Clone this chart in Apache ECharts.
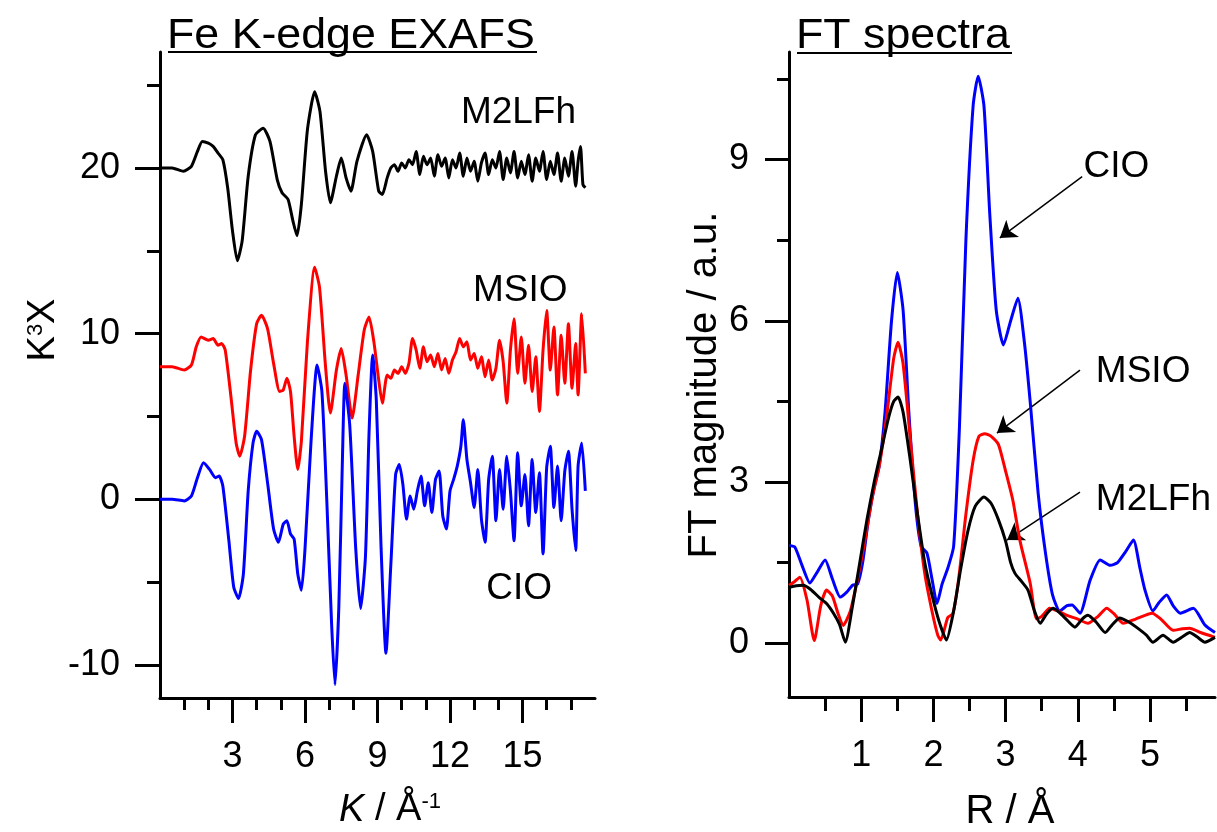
<!DOCTYPE html>
<html><head><meta charset="utf-8">
<script src="https://cdn.jsdelivr.net/npm/echarts@6/dist/echarts.min.js"></script>
<style>html,body{margin:0;padding:0;background:#fff}#c{width:1217px;height:832px}</style>
</head><body><div id="c"></div>
<script>
const FONT = '"Liberation Sans", Arial, sans-serif';

// ---------- Left panel: Fe K-edge EXAFS, k^3 chi(k) (offset) ----------
const exafsM2LFh = [
 [0,20],[0.5,20],[0.97,19.8],[1.3,20.1],[1.55,21.0],[1.75,21.6],[2.0,21.5],[2.2,21.3],[2.4,20.9],[2.6,20.5],
 [2.8,18.8],[3.0,16.2],[3.2,14.4],[3.4,15.6],[3.65,19.5],[3.95,22.0],[4.27,22.4],[4.55,21.6],[4.85,19.3],
 [5.05,18.5],[5.3,18.1],[5.5,16.8],[5.67,15.9],[5.85,17.8],[6.1,22.3],[6.4,24.6],[6.62,23.4],[6.85,19.8],
 [7.05,17.9],[7.3,19.5],[7.5,20.6],[7.7,19.4],[7.9,18.6],[8.15,20.4],[8.55,22.0],[8.8,21.0],[9.05,18.6],
 [9.2,18.4],[9.4,19.4],[9.55,20.0],[9.7,20.2],[9.85,19.8],[10.0,20.3],[10.15,20.0],[10.3,20.5],[10.45,20.2],
 [10.6,21.0],[10.75,19.6],[10.9,20.7],[11.05,20.2],[11.2,20.6],[11.35,19.5],[11.5,20.8],[11.65,20.1],[11.8,20.6],
 [11.95,19.4],[12.1,20.5],[12.25,20.0],[12.4,20.9],[12.55,19.5],[12.7,20.6],[12.85,19.8],[13.0,20.4],[13.15,19.2],
 [13.3,20.3],[13.45,20.9],[13.6,19.6],[13.75,20.5],[13.9,20.0],[14.05,21.0],[14.2,19.3],[14.35,20.6],[14.5,19.7],
 [14.65,21.0],[14.8,19.4],[14.95,20.4],[15.1,19.6],[15.25,20.8],[15.4,19.2],[15.55,20.6],[15.7,19.8],[15.85,21.0],
 [16.0,19.3],[16.15,20.4],[16.3,19.6],[16.45,20.9],[16.6,19.2],[16.75,20.6],[16.9,19.5],[17.05,21.0],[17.2,18.9],
 [17.3,20.4],[17.4,21.3],[17.5,19.0],[17.6,18.8]
];
const exafsMSIO = [
 [0,8],[0.5,8.0],[1.0,7.8],[1.3,8.1],[1.5,9.2],[1.7,9.8],[2.0,9.6],[2.2,9.7],[2.4,9.3],[2.55,9.4],[2.7,9.0],
 [2.95,6.0],[3.15,3.4],[3.3,2.6],[3.5,3.8],[3.75,7.8],[4.0,10.6],[4.2,11.1],[4.45,10.3],[4.7,8.2],[4.95,6.5],
 [5.1,6.6],[5.25,7.3],[5.4,6.5],[5.55,3.8],[5.7,1.8],[5.85,3.5],[6.1,9.5],[6.4,14.0],[6.6,12.8],[6.85,8.0],
 [7.05,5.2],[7.3,7.8],[7.5,9.1],[7.7,7.5],[7.95,4.9],[8.2,7.5],[8.45,10.2],[8.65,11.0],[8.85,9.5],[9.05,7.2],
 [9.2,5.8],[9.4,7.5],[9.55,7.3],[9.7,7.8],[9.85,7.6],[10.0,8.0],[10.15,7.6],[10.3,8.2],[10.45,9.7],[10.6,9.0],
 [10.75,7.9],[10.9,9.2],[11.05,8.3],[11.2,8.7],[11.35,8.0],[11.5,8.8],[11.65,7.8],[11.8,8.5],[11.95,7.6],
 [12.1,8.4],[12.25,8.9],[12.4,9.7],[12.55,9.2],[12.7,9.5],[12.85,8.4],[13.0,8.8],[13.15,7.9],[13.3,8.6],
 [13.45,7.4],[13.6,8.4],[13.75,7.2],[13.9,7.9],[14.05,9.6],[14.2,8.3],[14.35,5.8],[14.5,9.0],[14.65,10.9],
 [14.8,7.6],[14.95,9.8],[15.1,7.0],[15.25,9.3],[15.4,6.5],[15.55,8.6],[15.7,5.3],[15.85,9.0],[16.0,11.4],
 [16.15,7.8],[16.3,10.4],[16.45,6.3],[16.6,9.9],[16.75,7.0],[16.9,10.6],[17.05,6.7],[17.2,9.4],[17.3,6.3],
 [17.45,11.2],[17.6,7.6]
];
const exafsCIO = [
 [0,0],[0.5,0],[1.0,-0.1],[1.3,0.2],[1.55,1.3],[1.8,2.2],[2.05,1.8],[2.3,1.3],[2.45,1.4],[2.6,0.8],[2.85,-2.5],
 [3.05,-5.3],[3.25,-6.0],[3.45,-4.5],[3.65,0.5],[3.85,3.4],[4.0,4.1],[4.2,3.6],[4.45,1.0],[4.7,-1.8],[4.9,-2.6],
 [5.1,-1.5],[5.25,-1.3],[5.4,-2.1],[5.55,-2.4],[5.7,-4.5],[5.85,-5.5],[6.0,-3.0],[6.25,3.5],[6.5,8.1],[6.7,6.5],
 [6.9,0],[7.1,-7.5],[7.24,-11.2],[7.4,-6.5],[7.55,2.5],[7.65,7.0],[7.85,4.5],[8.1,-3.0],[8.3,-6.6],[8.5,-3.5],
 [8.65,4.0],[8.8,8.7],[8.95,6.0],[9.15,-3.0],[9.35,-9.3],[9.55,-4.0],[9.75,1.5],[9.9,2.1],[10.05,0.9],[10.2,-1.2],
 [10.35,0.2],[10.5,-0.6],[10.65,0.5],[10.8,1.4],[10.95,-0.4],[11.1,1.0],[11.25,-0.8],[11.4,1.2],[11.55,1.7],
 [11.7,-1.0],[11.85,-1.8],[12.0,0.5],[12.15,1.2],[12.3,2.0],[12.45,3.2],[12.55,4.8],[12.7,2.4],[12.85,1.0],
 [13.0,-0.5],[13.15,1.8],[13.3,-1.2],[13.45,-2.6],[13.6,1.2],[13.75,2.6],[13.9,-1.3],[14.05,1.8],[14.2,-0.6],
 [14.35,2.6],[14.5,0.5],[14.65,-2.5],[14.8,2.8],[14.95,-0.4],[15.1,1.5],[15.25,-1.6],[15.4,2.4],[15.55,-0.8],
 [15.7,1.6],[15.85,-3.3],[16.0,1.9],[16.15,3.2],[16.3,-0.5],[16.45,2.0],[16.6,-1.3],[16.75,1.7],[16.9,2.9],
 [17.05,-0.6],[17.2,-3.1],[17.3,2.0],[17.45,3.4],[17.6,0.5]
];
const exafsLabelNames = ['M2LFh','MSIO','CIO'];
const exafsLabelK = [12.45, 12.95, 13.5];
const exafsLabelY = [23.3, 12.6, -5.4];
const exafsMajorK = [3,6,9,12,15];
const exafsMinorK = [1,2,4,5,7,8,10,11,13,14,16,17];
const exafsMajorY = [-10,0,10,20];
const exafsMinorY = [-5,5,15,25];

// ---------- Right panel: FT magnitude vs R ----------
const ftCIO = [
 [0,1.82],[0.08,1.79],[0.18,1.45],[0.29,1.12],[0.38,1.3],[0.5,1.55],[0.6,1.2],[0.71,0.86],[0.8,0.95],[0.88,1.08],
 [0.95,1.1],[1.02,1.5],[1.1,2.3],[1.18,2.9],[1.25,3.3],[1.33,4.3],[1.42,6.0],[1.5,6.9],[1.58,6.2],[1.66,4.3],
 [1.75,2.6],[1.83,1.8],[1.91,1.68],[1.98,1.2],[2.05,0.74],[2.12,1.1],[2.2,1.4],[2.28,1.8],[2.36,4.0],[2.45,7.5],
 [2.55,10.0],[2.62,10.55],[2.7,10.0],[2.78,8.0],[2.87,6.2],[2.97,5.55],[3.07,6.0],[3.17,6.42],[3.26,5.6],
 [3.34,4.5],[3.45,2.8],[3.55,1.7],[3.65,0.9],[3.75,0.6],[3.85,0.7],[3.92,0.71],[4.03,0.56],[4.17,1.17],
 [4.31,1.55],[4.45,1.45],[4.55,1.5],[4.66,1.7],[4.77,1.92],[4.86,1.4],[4.93,0.99],[5.04,0.6],[5.12,0.75],
 [5.23,0.9],[5.32,0.7],[5.42,0.56],[5.6,0.65],[5.76,0.34],[5.9,0.2]
];
const ftMSIO = [
 [0,1.08],[0.08,1.15],[0.15,1.23],[0.25,0.8],[0.35,0.05],[0.44,0.7],[0.52,0.99],[0.6,0.88],[0.68,0.55],[0.75,0.33],
 [0.85,0.6],[0.95,1.2],[1.05,1.9],[1.15,2.7],[1.25,3.3],[1.35,4.2],[1.45,5.3],[1.51,5.6],[1.58,5.2],[1.68,3.8],
 [1.78,2.4],[1.88,1.3],[1.98,0.6],[2.06,0.15],[2.1,0.06],[2.2,0.48],[2.27,0.55],[2.35,1.2],[2.45,2.4],[2.55,3.4],
 [2.63,3.85],[2.71,3.9],[2.8,3.85],[2.9,3.7],[3.0,3.2],[3.1,2.66],[3.2,1.9],[3.34,1.12],[3.43,0.45],[3.5,0.5],
 [3.61,0.65],[3.72,0.6],[3.85,0.52],[4.0,0.45],[4.14,0.37],[4.28,0.5],[4.4,0.65],[4.5,0.55],[4.63,0.37],
 [4.8,0.45],[5.03,0.56],[5.15,0.45],[5.32,0.24],[5.45,0.27],[5.55,0.28],[5.7,0.2],[5.9,0.11]
];
const ftM2LFh = [
 [0,1.04],[0.1,1.07],[0.2,1.08],[0.3,1.0],[0.42,0.85],[0.52,0.74],[0.62,0.55],[0.7,0.35],[0.78,0.02],[0.88,0.7],
 [0.98,1.5],[1.08,2.3],[1.18,3.0],[1.28,3.6],[1.38,4.2],[1.45,4.5],[1.51,4.58],[1.58,4.3],[1.68,3.4],[1.78,2.4],
 [1.88,1.5],[1.98,0.9],[2.08,0.4],[2.18,0.06],[2.28,0.6],[2.38,1.4],[2.48,2.1],[2.58,2.55],[2.7,2.72],[2.8,2.6],
 [2.9,2.3],[3.0,1.9],[3.07,1.5],[3.13,1.3],[3.22,1.15],[3.31,0.99],[3.4,0.6],[3.48,0.37],[3.57,0.55],[3.66,0.65],
 [3.8,0.5],[3.96,0.3],[4.06,0.45],[4.14,0.52],[4.25,0.4],[4.38,0.2],[4.48,0.35],[4.58,0.47],[4.7,0.4],[4.81,0.3],
 [4.95,0.15],[5.04,0.02],[5.18,0.15],[5.32,0.02],[5.45,0.12],[5.55,0.2],[5.65,0.12],[5.76,0.02],[5.9,0.11]
];
const ftLabelNames = ['CIO','MSIO','M2LFh'];
const ftLabelR = [4.08, 4.25, 4.25];
const ftLabelY = [8.86, 5.05, 2.66];
const ftArrowFrom = [[4.06,8.68],[4.03,5.08],[4.03,2.81]];
const ftArrowTo = [[2.92,7.54],[2.88,3.91],[3.02,1.92]];
const ftMajorR = [1,2,3,4,5];
const ftMinorR = [0.5,1.5,2.5,3.5,4.5,5.5];
const ftMajorY = [0,3,6,9];
const ftMinorY = [1.5,4.5,7.5,10.5];

function axis(o) {
  return {
    type: 'value', gridIndex: o.grid, min: o.min, max: o.max, position: o.pos,
    splitLine: {show: false},
    axisLine: {show: o.line, onZero: false, lineStyle: {color: '#000', width: 3}},
    axisTick: {show: true, inside: false, length: o.len, customValues: o.ticks,
               lineStyle: {color: '#000', width: 3}},
    axisLabel: o.labels ? {show: true, customValues: o.labels, margin: o.margin, color: '#000',
               fontSize: 36, fontFamily: FONT} : {show: false}
  };
}
function curve(data, color, xi, yi) {
  return {type: 'line', xAxisIndex: xi, yAxisIndex: yi, data: data, showSymbol: false,
          smooth: 0.2, lineStyle: {color: color, width: 3}, silent: true};
}
function labels(names, xs, ys, xi, yi) {
  return {type: 'scatter', xAxisIndex: xi, yAxisIndex: yi, symbolSize: 0, silent: true,
          itemStyle: {opacity: 1},
          data: names.map((n, i) => [xs[i], ys[i], n]),
          label: {show: true, position: 'right', distance: 0, formatter: p => p.data[2],
                  color: '#000', opacity: 1, fontSize: 37, fontFamily: FONT}};
}

const chart = echarts.init(document.getElementById('c'), null, {renderer: 'canvas'});
chart.setOption({
  animation: false,
  backgroundColor: '#fff',
  grid: [
    {left: 160, right: 622, top: 52, bottom: 134},
    {left: 789, right: 2, top: 52, bottom: 135}
  ],
  xAxis: [
    axis({grid: 0, min: 0, max: 18, pos: 'bottom', line: true, len: 25, ticks: exafsMajorK, labels: exafsMajorK, margin: 41}),
    axis({grid: 0, min: 0, max: 18, pos: 'bottom', line: false, len: 12, ticks: exafsMinorK}),
    axis({grid: 1, min: 0, max: 5.9, pos: 'bottom', line: true, len: 25, ticks: ftMajorR, labels: ftMajorR, margin: 41}),
    axis({grid: 1, min: 0, max: 5.9, pos: 'bottom', line: false, len: 14, ticks: ftMinorR})
  ],
  yAxis: [
    axis({grid: 0, min: -12, max: 27, pos: 'left', line: true, len: 25, ticks: exafsMajorY, labels: exafsMajorY, margin: 40}),
    axis({grid: 0, min: -12, max: 27, pos: 'left', line: false, len: 13, ticks: exafsMinorY}),
    axis({grid: 1, min: -1, max: 11, pos: 'left', line: true, len: 24, ticks: ftMajorY, labels: ftMajorY, margin: 40}),
    axis({grid: 1, min: -1, max: 11, pos: 'left', line: false, len: 12, ticks: ftMinorY})
  ],
  series: [
    curve(exafsM2LFh, '#000000', 0, 0),
    curve(exafsMSIO, '#ff0000', 0, 0),
    curve(exafsCIO, '#0000ff', 0, 0),
    labels(exafsLabelNames, exafsLabelK, exafsLabelY, 0, 0),
    curve(ftCIO, '#0000ff', 2, 2),
    curve(ftMSIO, '#ff0000', 2, 2),
    curve(ftM2LFh, '#000000', 2, 2),
    labels(ftLabelNames, ftLabelR, ftLabelY, 2, 2),
    {type: 'lines', coordinateSystem: 'cartesian2d', xAxisIndex: 2, yAxisIndex: 2, silent: true,
     symbol: ['none', 'arrow'], symbolSize: 16,
     lineStyle: {color: '#000', width: 1.5, opacity: 1},
     data: ftArrowFrom.map((f, i) => ({coords: [f, ftArrowTo[i]]}))}
  ],
  graphic: [
    {type: 'text', x: 167, y: 36, scaleX: 1.065, style: {text: 'Fe K-edge EXAFS', fontSize: 42, fontFamily: FONT, fill: '#000', align: 'left', verticalAlign: 'middle'}},
    {type: 'rect', shape: {x: 168, y: 51, width: 369, height: 2}, style: {fill: '#000'}},
    {type: 'text', x: 796, y: 36, scaleX: 1.065, style: {text: 'FT spectra', fontSize: 42, fontFamily: FONT, fill: '#000', align: 'left', verticalAlign: 'middle'}},
    {type: 'rect', shape: {x: 797, y: 52, width: 215, height: 2}, style: {fill: '#000'}},
    {type: 'text', x: 44, y: 330, rotation: Math.PI / 2,
     style: {text: '{a|K}{s|3}{a|X}', fill: '#000', align: 'center', verticalAlign: 'middle',
             rich: {a: {fontSize: 38, fontFamily: FONT, fill: '#000'}, s: {fontSize: 22, fontFamily: FONT, fill: '#000', verticalAlign: 'top', padding: [0, 0, 14, 0]}}}},
    {type: 'text', x: 705, y: 385, rotation: Math.PI / 2,
     style: {text: 'FT magnitude / a.u.', fontSize: 40, fontFamily: FONT, fill: '#000', align: 'center', verticalAlign: 'middle'}},
    {type: 'text', x: 390, y: 810,
     style: {text: '{i|K}{a| / Å}{s|-1}', fill: '#000', align: 'center', verticalAlign: 'middle',
             rich: {i: {fontSize: 38, fontFamily: FONT, fontStyle: 'italic', fill: '#000'}, a: {fontSize: 38, fontFamily: FONT, fill: '#000'}, s: {fontSize: 22, fontFamily: FONT, fill: '#000', verticalAlign: 'top', padding: [0, 0, 14, 0]}}}},
    {type: 'text', x: 1010, y: 812,
     style: {text: 'R / Å', fontSize: 40, fontFamily: FONT, fill: '#000', align: 'center', verticalAlign: 'middle'}}
  ]
});
</script></body></html>
